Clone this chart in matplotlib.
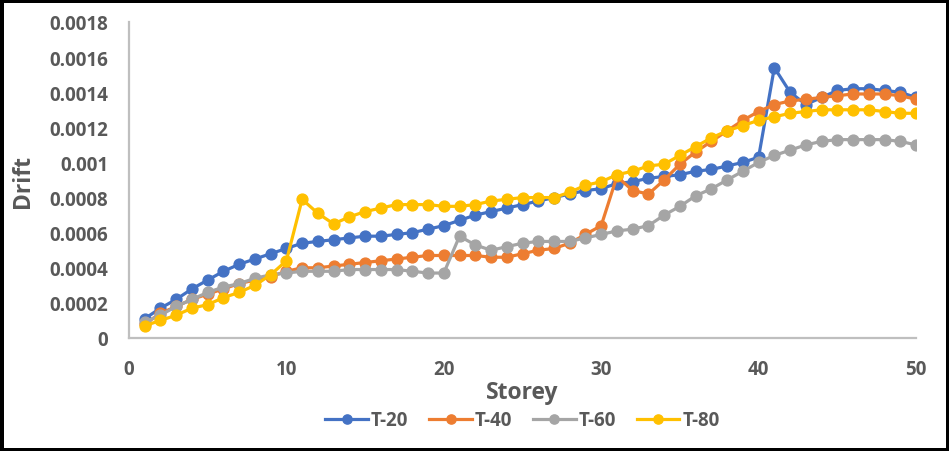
import numpy as np
import matplotlib.pyplot as plt
from matplotlib.ticker import MultipleLocator, FuncFormatter

storey = list(range(1, 51))

t20 = [0.00011, 0.00017, 0.00022, 0.00028, 0.00033, 0.00038, 0.00042, 0.00045, 0.00048, 0.00051,
       0.00054, 0.00055, 0.00056, 0.00057, 0.00058, 0.00058, 0.00059, 0.00060, 0.00062, 0.00064,
       0.00067, 0.00070, 0.00072, 0.00074, 0.00076, 0.00078, 0.00080, 0.00082, 0.00084, 0.00085,
       0.00088, 0.00089, 0.00091, 0.00092, 0.00093, 0.00095, 0.00096, 0.00098, 0.00100, 0.00103,
       0.00154, 0.00140, 0.00133, 0.00137, 0.00141, 0.00142, 0.00142, 0.00141, 0.00140, 0.00137]

t40 = [0.00008, 0.00014, 0.00018, 0.00022, 0.00025, 0.00028, 0.00031, 0.00033, 0.00035, 0.00038,
       0.00040, 0.00040, 0.00041, 0.00042, 0.00043, 0.00044, 0.00045, 0.00046, 0.00047, 0.00047,
       0.00047, 0.00047, 0.00046, 0.00046, 0.00048, 0.00050, 0.00051, 0.00054, 0.00059, 0.00064,
       0.00092, 0.00084, 0.00082, 0.00090, 0.00099, 0.00106, 0.00112, 0.00118, 0.00124, 0.00129,
       0.00133, 0.00135, 0.00136, 0.00137, 0.00138, 0.00139, 0.00139, 0.00139, 0.00138, 0.00136]

t60 = [0.00009, 0.00013, 0.00018, 0.00022, 0.00026, 0.00029, 0.00031, 0.00034, 0.00036, 0.00037,
       0.00038, 0.00038, 0.00038, 0.00039, 0.00039, 0.00039, 0.00039, 0.00038, 0.00037, 0.00037,
       0.00058, 0.00053, 0.00050, 0.00052, 0.00054, 0.00055, 0.00055, 0.00055, 0.00057, 0.00059,
       0.00061, 0.00062, 0.00064, 0.00070, 0.00075, 0.00081, 0.00085, 0.00090, 0.00095, 0.00100,
       0.00104, 0.00107, 0.00110, 0.00112, 0.00113, 0.00113, 0.00113, 0.00113, 0.00112, 0.00110]

t80 = [0.00007, 0.00010, 0.00013, 0.00017, 0.00019, 0.00023, 0.00026, 0.00030, 0.00036, 0.00044,
       0.00079, 0.00071, 0.00065, 0.00069, 0.00072, 0.00074, 0.00076, 0.00076, 0.00076, 0.00075,
       0.00075, 0.00076, 0.00078, 0.00079, 0.00080, 0.00080, 0.00080, 0.00083, 0.00087, 0.00089,
       0.00093, 0.00095, 0.00098, 0.00099, 0.00104, 0.00109, 0.00114, 0.00118, 0.00121, 0.00124,
       0.00126, 0.00128, 0.00129, 0.00130, 0.00130, 0.00130, 0.00130, 0.00129, 0.00128, 0.00128]

series = [('T-20', t20, '#4472C4'), ('T-40', t40, '#ED7D31'),
          ('T-60', t60, '#A5A5A5'), ('T-80', t80, '#FFC000')]

plt.rcParams['font.family'] = ['Open Sans', 'DejaVu Sans']
txt = '#595959'

fig = plt.figure(figsize=(9.49, 4.52), dpi=100)
fig.patch.set_edgecolor('black')
fig.patch.set_linewidth(5)
ax = fig.add_axes([129/949, 113/452, 787/949, 316/452])

for name, vals, col in series:
    ax.plot(storey, vals, color=col, lw=2.3, marker='o', ms=7.8, label=name)

ax.set_xlim(0, 50)
ax.set_ylim(0, 0.0018)
ax.xaxis.set_major_locator(MultipleLocator(10))
ax.yaxis.set_major_locator(MultipleLocator(0.0002))
ax.yaxis.set_major_formatter(FuncFormatter(lambda v, p: '0' if abs(v) < 1e-12 else ('%.4f' % v).rstrip('0')))
for s in ['top', 'right']:
    ax.spines[s].set_visible(False)
for s in ['left', 'bottom']:
    ax.spines[s].set_color('#BFBFBF')
    ax.spines[s].set_linewidth(1.6)
ax.tick_params(length=0, labelsize=13.5, colors=txt)
ax.tick_params(axis='x', pad=15)
ax.tick_params(axis='y', pad=15)
for lab in ax.get_xticklabels() + ax.get_yticklabels():
    lab.set_fontweight('bold')

ax.set_xlabel('Storey', fontsize=16.5, fontweight='bold', color=txt, labelpad=1)
ax.set_ylabel('Drift', fontsize=16.5, fontweight='bold', color=txt, labelpad=10)

ax.legend(loc='center', bbox_to_anchor=(0.5, -0.26), ncol=4, frameon=False,
          prop={'size': 13.5, 'weight': 'bold'}, labelcolor=txt, handlelength=2.25,
          columnspacing=1.15, handletextpad=0.15, markerscale=0.85)

plt.savefig('out.png', dpi=100)
